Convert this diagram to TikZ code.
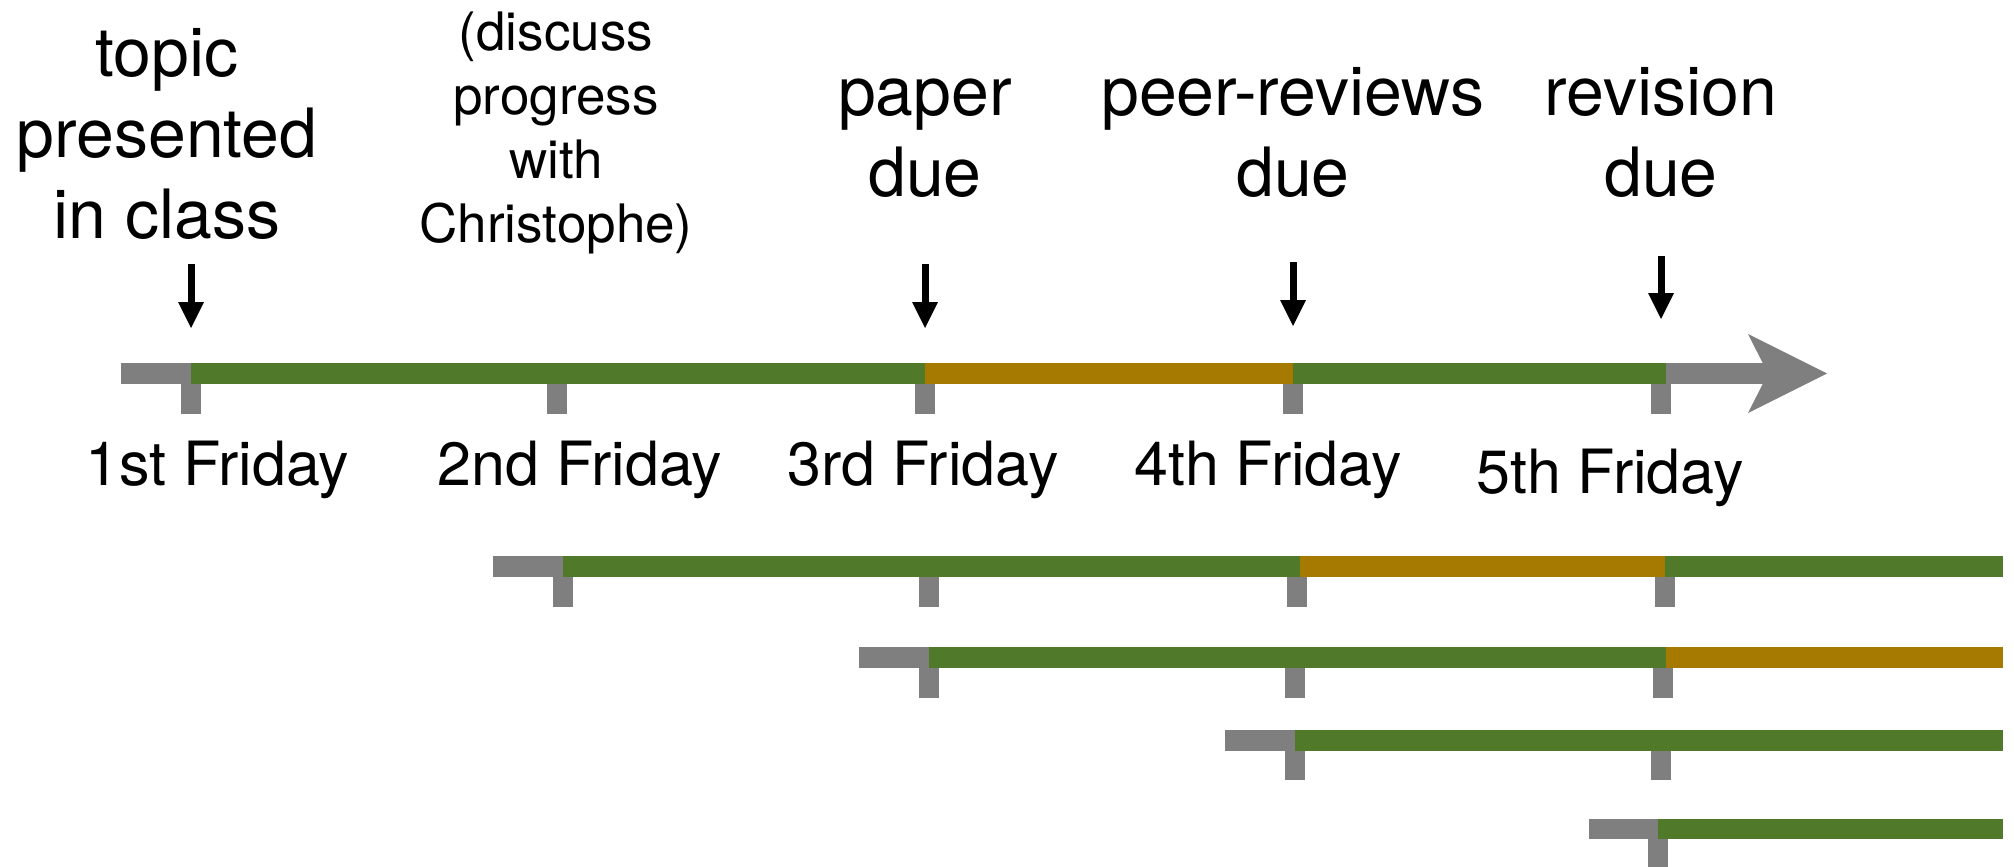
\documentclass[tikz,border=0pt]{standalone}
\usepackage{fontspec}
\setmainfont{TeX Gyre Heros}
\usetikzlibrary{arrows.meta}
\definecolor{tlgreen}{RGB}{80,122,42}
\definecolor{tlorange}{RGB}{166,122,0}
\definecolor{tlgray}{RGB}{127,127,127}
\begin{document}
\begin{tikzpicture}[x=1pt,y=-1pt,
  gbar/.style={fill=tlgreen},
  obar/.style={fill=tlorange},
  graybar/.style={fill=tlgray},
  bigtxt/.style={font=\fontsize{68}{81}\selectfont, align=center, anchor=base, inner sep=0pt},
  midtxt/.style={font=\fontsize{61}{70}\selectfont, anchor=base, inner sep=0pt},
  smalltxt/.style={font=\fontsize{53}{64}\selectfont, align=center, anchor=base, inner sep=0pt},
  downarrow/.style={line width=7pt, -{Triangle[length=26pt,width=26pt,line width=0pt]}}
]
\useasboundingbox (0,0) rectangle (2014,867);

% ---- main timeline (bar 363-384, ticks to 414)
\fill[graybar] (181,384) rectangle (201,414);
\fill[graybar] (547,384) rectangle (567,414);
\fill[graybar] (915,384) rectangle (935,414);
\fill[graybar] (1283,384) rectangle (1303,414);
\fill[graybar] (1651,384) rectangle (1671,414);
\fill[graybar] (121,363) rectangle (191,384);
\fill[gbar] (191,363) rectangle (925,384);
\fill[obar] (925,363) rectangle (1293,384);
\fill[gbar] (1293,363) rectangle (1666,384);
\fill[graybar] (1666,363) rectangle (1769,384);
\fill[graybar] (1748,334) -- (1827,373.5) -- (1748,413) -- (1768,373.5) -- cycle;

% ---- row 2 (556-577)
\fill[graybar] (553,577) rectangle (573,607);
\fill[graybar] (919,577) rectangle (939,607);
\fill[graybar] (1287,577) rectangle (1307,607);
\fill[graybar] (1655,577) rectangle (1675,607);
\fill[graybar] (493,556) rectangle (563,577);
\fill[gbar] (563,556) rectangle (1300,577);
\fill[obar] (1300,556) rectangle (1665,577);
\fill[gbar] (1665,556) rectangle (2003,577);

% ---- row 3 (647-668)
\fill[graybar] (919,668) rectangle (939,698);
\fill[graybar] (1285,668) rectangle (1305,698);
\fill[graybar] (1653,668) rectangle (1673,698);
\fill[graybar] (859,647) rectangle (929,668);
\fill[gbar] (929,647) rectangle (1666,668);
\fill[obar] (1666,647) rectangle (2003,668);

% ---- row 4 (730-751)
\fill[graybar] (1285,751) rectangle (1305,780);
\fill[graybar] (1651,751) rectangle (1671,780);
\fill[graybar] (1225,730) rectangle (1295,751);
\fill[gbar] (1295,730) rectangle (2003,751);

% ---- row 5 (819-839)
\fill[graybar] (1648,839) rectangle (1668,867);
\fill[graybar] (1589,819) rectangle (1658,839);
\fill[gbar] (1658,819) rectangle (2003,839);

% ---- labels above (anchor = baseline of last line)
\node[bigtxt] (topic) at (167,238) {topic\\presented\\in class};
\node[smalltxt] (discuss) at (556,242) {(discuss\\progress\\with\\Christophe)};
\node[bigtxt] (paper) at (925,196) {paper\\due};
\node[bigtxt] (peer) at (1293,196) {peer-reviews\\due};
\node[bigtxt] (revision) at (1661,196) {revision\\due};

% ---- Friday labels
\node[midtxt] (f1) at (217,485) {1st Friday};
\node[midtxt] (f2) at (580,485) {2nd Friday};
\node[midtxt] (f3) at (923,485) {3rd Friday};
\node[midtxt] (f4) at (1268,485) {4th Friday};
\node[midtxt] (f5) at (1610,493) {5th Friday};

% ---- arrows
\coordinate (a1s) at (191,264); \coordinate (a1e) at (191,328);
\coordinate (a3s) at (925,264); \coordinate (a3e) at (925,328);
\coordinate (a4s) at (1293,262); \coordinate (a4e) at (1293,326);
\coordinate (a5s) at (1661,256); \coordinate (a5e) at (1661,319);
\draw[downarrow] (a1s) -- (a1e);
\draw[downarrow] (a3s) -- (a3e);
\draw[downarrow] (a4s) -- (a4e);
\draw[downarrow] (a5s) -- (a5e);
\end{tikzpicture}
\end{document}
